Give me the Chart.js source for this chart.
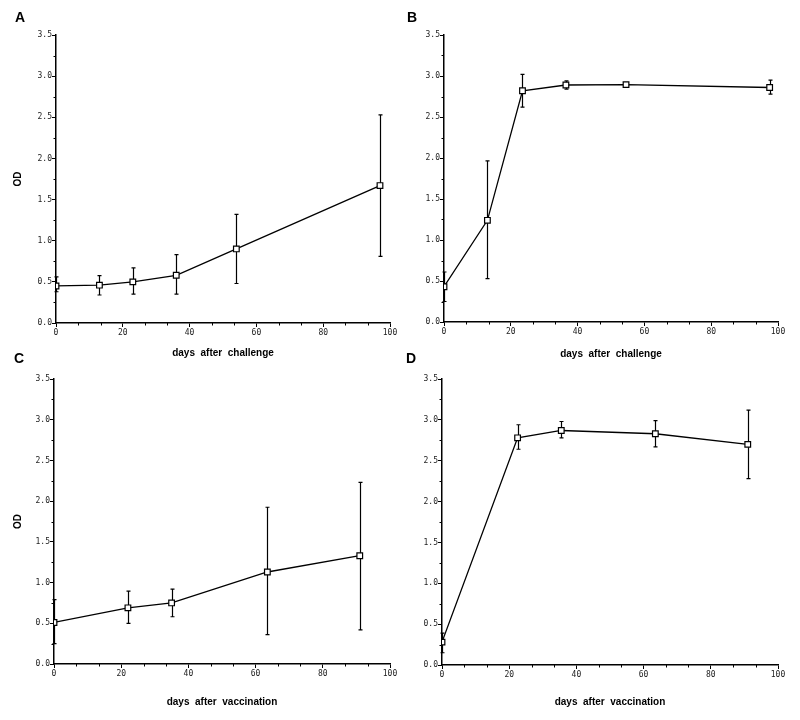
<!DOCTYPE html>
<html>
<head>
<meta charset="utf-8">
<script src="https://cdn.jsdelivr.net/npm/chart.js@4"></script>
<style>
  body { margin: 0; background: #fff; }
  #wrap { position: relative; width: 800px; height: 720px; }
  canvas { position: absolute; }
  .lbl { position: absolute; font: bold 14px "Liberation Sans", Arial, sans-serif; line-height: 1; color: #000; }
</style>
</head>
<body>
<div id="wrap">
  <canvas id="cA" width="400" height="360" style="left:0;top:0"></canvas>
  <canvas id="cB" width="400" height="360" style="left:400px;top:0"></canvas>
  <canvas id="cC" width="400" height="360" style="left:0;top:360px"></canvas>
  <canvas id="cD" width="400" height="360" style="left:400px;top:360px"></canvas>
  <div class="lbl" style="left:15px;top:10px">A</div>
  <div class="lbl" style="left:407px;top:10px">B</div>
  <div class="lbl" style="left:14px;top:351px">C</div>
  <div class="lbl" style="left:406px;top:351px">D</div>
</div>
<script>
// panel A: days after challenge
const daysA = [0, 13, 23, 36, 54, 97];
const meanA = [0.45, 0.46, 0.50, 0.58, 0.90, 1.67];
const lowA  = [0.38, 0.34, 0.35, 0.35, 0.48, 0.81];
const highA = [0.56, 0.575, 0.67, 0.83, 1.32, 2.53];

// panel B: days after challenge
const daysB = [0, 13, 23.5, 36.5, 54.5, 97.5];
const meanB = [0.43, 1.24, 2.82, 2.89, 2.895, 2.86];
const lowB  = [0.25, 0.53, 2.62, 2.84, 2.88, 2.78];
const highB = [0.61, 1.965, 3.02, 2.94, 2.91, 2.95];

// panel C: days after vaccination
const daysC = [0, 22, 35, 63.5, 91];
const meanC = [0.51, 0.69, 0.75, 1.13, 1.33];
const lowC  = [0.25, 0.50, 0.58, 0.36, 0.42];
const highC = [0.79, 0.895, 0.92, 1.925, 2.23];

// panel D: days after vaccination
const daysD = [0, 22.5, 35.5, 63.5, 91];
const meanD = [0.28, 2.78, 2.87, 2.83, 2.70];
const lowD  = [0.15, 2.64, 2.78, 2.67, 2.28];
const highD = [0.39, 2.94, 2.98, 2.99, 3.12];

const yTicks = [0, 0.5, 1, 1.5, 2, 2.5, 3, 3.5];
const yMinor = [0.25, 0.75, 1.25, 1.75, 2.25, 2.75, 3.25];
const xMinor = [6.67, 13.33, 26.67, 33.33, 46.67, 53.33, 66.67, 73.33, 86.67, 93.33];

const tickFont = { family: '"DejaVu Sans Mono", monospace', size: 8 };
const titleFont = { family: '"Liberation Sans", Arial, sans-serif', size: 10, weight: 'bold' };

// error bars under the markers, minor ticks on the axes
const extras = {
  id: 'extras',
  beforeDatasetsDraw(chart) {
    const ctx = chart.ctx, xs = chart.scales.x, ys = chart.scales.y;
    const ds = chart.data.datasets[0];
    ctx.save();
    ctx.strokeStyle = '#000';
    ctx.lineWidth = 1.2;
    ds.data.forEach((p, i) => {
      const px = Math.round(xs.getPixelForValue(p.x)) + 0.5;
      const top = ys.getPixelForValue(ds.errHigh[i]);
      const bot = ys.getPixelForValue(ds.errLow[i]);
      ctx.beginPath();
      ctx.moveTo(px, top); ctx.lineTo(px, bot);
      ctx.moveTo(px - 2, top); ctx.lineTo(px + 2, top);
      ctx.moveTo(px - 2, bot); ctx.lineTo(px + 2, bot);
      ctx.stroke();
    });
    ctx.restore();
  },
  afterDraw(chart) {
    const ctx = chart.ctx, xs = chart.scales.x, ys = chart.scales.y;
    const a = chart.chartArea;
    ctx.save();
    ctx.strokeStyle = '#000';
    ctx.lineWidth = 1;
    ctx.beginPath();
    yMinor.forEach(v => {
      const py = Math.round(ys.getPixelForValue(v)) + 0.5;
      ctx.moveTo(a.left - 2.5, py); ctx.lineTo(a.left, py);
    });
    xMinor.forEach(v => {
      const px = Math.round(xs.getPixelForValue(v)) + 0.5;
      ctx.moveTo(px, a.bottom); ctx.lineTo(px, a.bottom + 2.5);
    });
    ctx.stroke();
    ctx.restore();
  }
};

function makePanel(id, days, mean, low, high, xTitle, showOD, box) {
  return new Chart(document.getElementById(id), {
    type: 'line',
    data: {
      datasets: [{
        data: days.map((d, i) => ({ x: d, y: mean[i] })),
        errLow: low,
        errHigh: high,
        borderColor: '#000',
        borderWidth: 1.3,
        tension: 0,
        fill: false,
        pointStyle: 'rect',
        pointRadius: 4,
        pointBorderWidth: 1.2,
        pointBorderColor: '#000',
        pointBackgroundColor: '#fff'
      }]
    },
    options: {
      responsive: false,
      animation: false,
      devicePixelRatio: 1,
      layout: { padding: { left: 0, top: box.top, right: box.right, bottom: 0 } },
      plugins: { legend: { display: false }, tooltip: { enabled: false } },
      scales: {
        x: {
          type: 'linear', min: 0, max: 100,
          afterFit: s => { s.height = box.xh; },
          grid: { drawOnChartArea: false, drawTicks: true, tickLength: 4, color: '#000', tickWidth: 1 },
          border: { display: true, color: '#000', width: 1.5 },
          ticks: { stepSize: 20, padding: 1, color: '#222', font: tickFont, maxRotation: 0 },
          title: { display: true, text: xTitle, color: '#000', font: titleFont, padding: { top: 0, bottom: box.tp } }
        },
        y: {
          min: 0, max: 3.5,
          afterFit: s => { s.width = box.left; },
          afterBuildTicks: s => { s.ticks = yTicks.map(v => ({ value: v })); },
          grid: { drawOnChartArea: false, drawTicks: true, tickLength: 4, color: '#000', tickWidth: 1 },
          border: { display: true, color: '#000', width: 1.5 },
          ticks: { padding: 0, color: '#222', font: tickFont, callback: v => v.toFixed(1) },
          title: { display: showOD, text: 'OD', color: '#000', font: titleFont, padding: { top: 12, bottom: 0 } }
        }
      }
    },
    plugins: [extras]
  });
}

makePanel('cA', daysA, meanA, lowA, highA, 'days  after  challenge', true,
  { left: 56, top: 35, right: 10, xh: 37, tp: 1 });
makePanel('cB', daysB, meanB, lowB, highB, 'days  after  challenge', false,
  { left: 44, top: 35, right: 22, xh: 38, tp: 0 });
makePanel('cC', daysC, meanC, lowC, highC, 'days  after  vaccination', true,
  { left: 54, top: 19, right: 10, xh: 56, tp: 12 });
makePanel('cD', daysD, meanD, lowD, highD, 'days  after  vaccination', false,
  { left: 42, top: 19, right: 22, xh: 55, tp: 12 });
</script>
</body>
</html>
